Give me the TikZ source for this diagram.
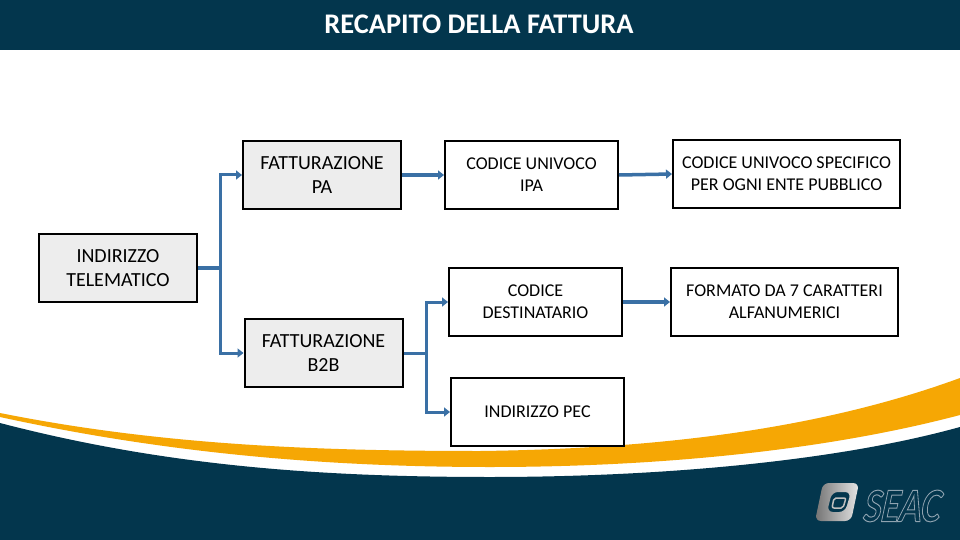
\documentclass[tikz,border=0pt]{standalone}
\usepackage{fontspec}
\setmainfont{Carlito}
\usepackage{tikz}
\usetikzlibrary{arrows.meta,positioning}
\definecolor{seacblue}{HTML}{03364D}
\definecolor{seacorange}{HTML}{F6A704}
\definecolor{linkblue}{HTML}{3A70A5}
\definecolor{boxgray}{HTML}{EDEDED}
\definecolor{logogray}{HTML}{8FA3B0}

\begin{document}
\begin{tikzpicture}[
    x=1pt,
    y=-1pt,
    box/.style={
        draw=black,
        line width=2pt,
        align=center,
        inner sep=0pt,
        minimum height=68pt
    },
    graybox/.style={
        box,
        fill=boxgray,
        minimum width=158pt,
        font=\fontsize{20}{24}\selectfont
    },
    whitebox/.style={
        box,
        fill=white,
        minimum width=173pt,
        font=\fontsize{18}{22}\selectfont
    },
    widebox/.style={
        whitebox,
        minimum width=227pt
    },
    arrow/.style={-{Triangle[length=6pt,width=9pt]}, linkblue, line width=3pt},
    stem/.style={linkblue, line width=4pt}
]
\useasboundingbox (0,0) rectangle (960,540);
\fill[white] (0,0) rectangle (960,540);
\fill[seacblue] (0,0) rectangle (960,50);
\node[text=white, font=\fontsize{28.4}{32}\bfseries\selectfont] (title) at (479,24) {RECAPITO DELLA FATTURA};

\fill[seacorange] (0,413) .. controls (160,445) and (315,451) .. (480,451)
    .. controls (640,449) and (810,433) .. (960,378)
    -- (960,415) .. controls (820,452) and (650,467) .. (490,467)
    .. controls (320,467) and (160,452) .. (0,417) -- cycle;
\fill[seacblue] (0,423) .. controls (165,466) and (320,477) .. (490,477)
    .. controls (650,477) and (830,463) .. (960,427)
    -- (960,540) -- (0,540) -- cycle;

\node[graybox] (indirizzo) at (118,268) {INDIRIZZO\\TELEMATICO};
\node[graybox] (fattpa) at (322,175) {FATTURAZIONE\\PA};
\node[graybox] (fattb2b) at (323.5,353) {FATTURAZIONE\\B2B};
\node[whitebox] (ipa) at (531.5,175) {CODICE UNIVOCO\\IPA};
\node[whitebox] (destinatario) at (535.5,302) {CODICE\\DESTINATARIO};
\node[whitebox] (pec) at (537.5,412) {INDIRIZZO PEC};
\node[widebox] (specifico) at (786.5,174) {CODICE UNIVOCO SPECIFICO\\PER OGNI ENTE PUBBLICO};
\node[widebox] (formato) at (784.5,302) {FORMATO DA 7 CARATTERI\\ALFANUMERICI};

\coordinate (split) at (220,268);
\coordinate (splitb) at (426,353);

\draw[stem] (indirizzo.east) -- (split);
\draw[arrow] (split) |- (fattpa.west);
\draw[arrow] (split) |- (fattb2b.west);
\draw[arrow, line width=4pt] (fattpa) -- (ipa);
\draw[arrow, line width=3.5pt] (ipa.east) -- (specifico.west);
\draw[stem, line width=3pt] (fattb2b.east) -- (splitb);
\draw[arrow] (splitb) |- (destinatario.west);
\draw[arrow] (splitb) |- (pec.west);
\draw[arrow, line width=4pt] (destinatario) -- (formato);

\shade[left color=black!55, right color=white!90!black, even odd rule, rounded corners=6pt]
    (823,483) -- (859,483) -- (851,521) -- (815,521) -- cycle
    (832,492) -- (851,492) -- (845,512) -- (827,512) -- cycle;
\draw[white!75!black, line width=1.5pt, rounded corners=2pt]
    (834,498) -- (846,498) -- (843,508) -- (832,508) -- cycle;
\node[font=\fontsize{48}{48}\bfseries\itshape\selectfont, inner sep=0pt, xscale=0.78, xslant=0.15, transform shape] (logotext) at (903,506)
    {\special{pdf:code 1 Tr 1 w 0.56 0.64 0.69 RG}SEAC\special{pdf:code 0 Tr}};
\end{tikzpicture}
\end{document}
